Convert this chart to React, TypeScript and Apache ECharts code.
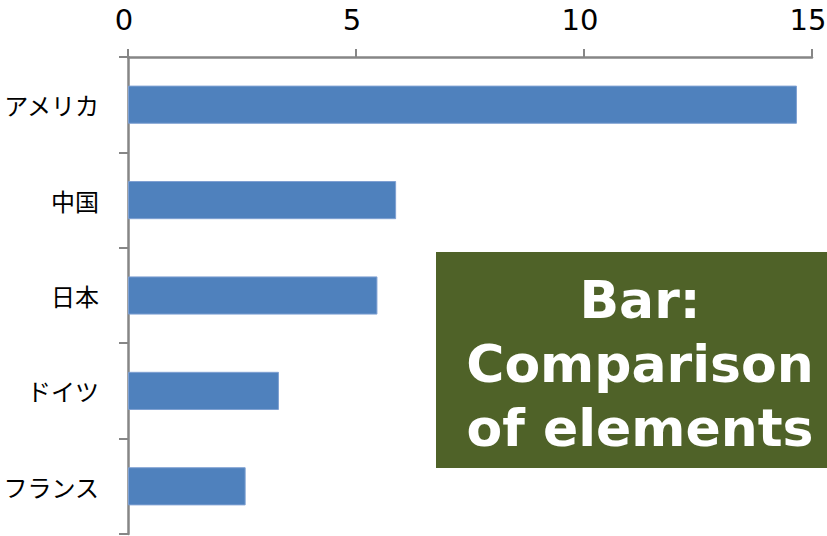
import React, { useEffect, useRef } from "react";
import * as echarts from "echarts";

// Countries listed top to bottom, with their values on the 0–15 scale
const countries = ["アメリカ", "中国", "日本", "ドイツ", "フランス"];
const values = [14.67, 5.88, 5.47, 3.31, 2.58];
const valueTicks = { min: 0, max: 15, interval: 5 };
const boxLines = ["Bar:", "Comparison", "of elements"];

const AXIS_GREY = "#868686";

export default function App() {
  const ref = useRef<HTMLDivElement>(null);

  useEffect(() => {
    if (!ref.current) return;
    const chart = echarts.init(ref.current, null, { renderer: "svg" });
    chart.setOption({
      animation: false,
      backgroundColor: "#ffffff",
      grid: {
        left: 128,
        right: 15,
        top: 57,
        bottom: 2,
        containLabel: false,
        outerBoundsMode: "none",
      },
      xAxis: {
        type: "value",
        position: "top",
        min: valueTicks.min,
        max: valueTicks.max,
        interval: valueTicks.interval,
        splitLine: { show: false },
        axisLine: { show: true, lineStyle: { color: AXIS_GREY, width: 2.5 } },
        axisTick: { show: true, inside: false, length: 8, lineStyle: { color: AXIS_GREY, width: 2 } },
        axisLabel: {
          margin: 23,
          color: "#000000",
          fontSize: 29,
          fontFamily: "DejaVu Sans",
          padding: [0, 8, 0, 0],
        },
      },
      yAxis: {
        type: "category",
        data: countries,
        inverse: true,
        axisLine: { show: true, lineStyle: { color: AXIS_GREY, width: 2.5 } },
        axisTick: { show: true, inside: false, length: 9, interval: 0, lineStyle: { color: AXIS_GREY, width: 2 } },
        axisLabel: {
          margin: 29,
          color: "#000000",
          fontSize: 24,
          fontFamily: "Noto Sans CJK JP",
        },
        splitLine: { show: false },
      },
      series: [
        {
          type: "bar",
          data: values,
          barWidth: "40%",
          itemStyle: { color: "#4F81BD", borderColor: "#7FA0D2", borderWidth: 1 },
        },
      ],
      graphic: [
        {
          type: "rect",
          left: 436,
          top: 252,
          shape: { width: 391, height: 216 },
          style: { fill: "#4F6228" },
          z: 10,
        },
        {
          type: "text",
          x: 640,
          y: 364,
          z: 11,
          style: {
            text: boxLines.join("\n"),
            fill: "#ffffff",
            font: "bold 52px 'DejaVu Sans'",
            lineHeight: 64,
            align: "center",
            verticalAlign: "middle",
          },
        },
      ],
    });
    return () => chart.dispose();
  }, []);

  return (
    <div
      ref={ref}
      style={{ position: "fixed", left: 0, top: 0, width: 827, height: 536 }}
    />
  );
}
